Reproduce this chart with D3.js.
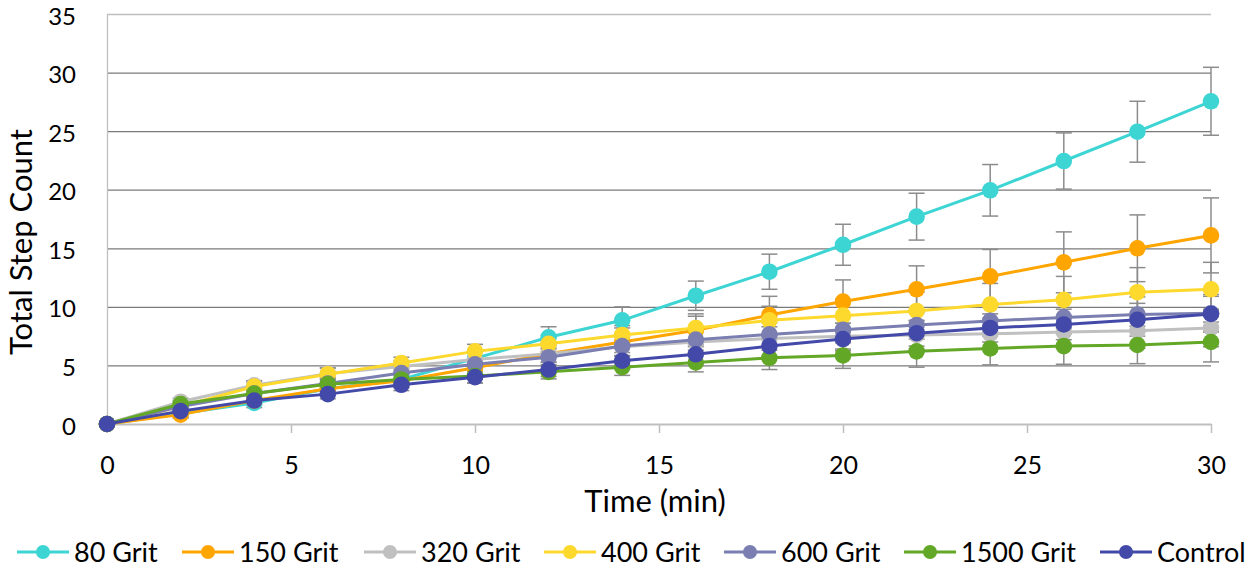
<!DOCTYPE html>
<html><head><meta charset="utf-8">
<script src="https://cdn.jsdelivr.net/npm/d3@7"></script>
<style>body{margin:0;background:#fff;} svg{display:block;font-family:Lato,"Open Sans",sans-serif;}</style>
</head><body><svg id="c" width="1256" height="568"></svg>
<script>
const times = [0,2,4,6,8,10,12,14,16,18,20,22,24,26,28,30];
const seriesNames = ["80 Grit","150 Grit","320 Grit","400 Grit","600 Grit","1500 Grit","Control"];
const seriesColors = ["#3dd4d4","#ffa500","#c0c0c0","#fdd82d","#7a7eb0","#63a726","#4349a8"];
const grit80   = [0,0.9,1.8,3.0,3.8,5.6,7.4,8.85,10.95,13.0,15.3,17.7,19.95,22.45,24.95,27.55];
const grit150  = [0,0.8,2.0,3.0,3.7,4.8,6.0,7.0,8.0,9.3,10.45,11.5,12.6,13.8,15.0,16.1];
const grit320  = [0,1.9,3.3,4.3,4.9,5.5,6.0,6.6,7.0,7.3,7.5,7.6,7.7,7.85,7.95,8.2];
const grit400  = [0,1.5,3.2,4.25,5.2,6.2,6.85,7.6,8.2,8.85,9.25,9.65,10.2,10.6,11.25,11.5];
const grit600  = [0,1.5,2.6,3.45,4.35,5.1,5.7,6.65,7.2,7.65,8.05,8.45,8.8,9.1,9.35,9.45];
const grit1500 = [0,1.7,2.6,3.4,3.8,4.1,4.45,4.85,5.25,5.65,5.85,6.2,6.45,6.65,6.75,7.0];
const control  = [0,1.1,2.0,2.55,3.35,4.0,4.65,5.4,5.95,6.65,7.25,7.75,8.2,8.5,8.9,9.4];
const err80    = [0,0.3,0.4,0.5,0.6,0.7,0.9,1.15,1.25,1.5,1.75,2.0,2.2,2.4,2.6,2.9];
const err150   = [0,0.3,0.4,0.5,0.6,0.8,1.0,1.2,1.4,1.6,1.85,2.0,2.3,2.6,2.85,3.2];
const err320   = [0,0.3,0.4,0.5,0.5,0.6,0.7,0.8,0.9,1.0,1.1,1.2,1.3,1.4,1.5,1.6];
const err400   = [0,0.3,0.4,0.5,0.5,0.6,0.7,0.8,1.0,1.2,1.4,1.6,1.8,2.0,2.1,2.3];
const err600   = [0,0.3,0.4,0.5,0.5,0.6,0.7,0.8,0.9,1.0,1.1,1.2,1.3,1.4,1.5,1.6];
const err1500  = [0,0.3,0.4,0.5,0.5,0.6,0.6,0.7,0.8,1.0,1.1,1.35,1.4,1.55,1.6,1.7];
const errCtrl  = [0,0.3,0.3,0.4,0.5,0.5,0.6,0.7,0.8,0.9,1.0,1.1,1.2,1.3,1.4,1.5];
const xTicks = [0,5,10,15,20,25,30];
const yTicks = [0,5,10,15,20,25,30,35];
const xTitle = "Time (min)";
const yTitle = "Total Step Count";

const values = [grit80,grit150,grit320,grit400,grit600,grit1500,control];
const errors = [err80,err150,err320,err400,err600,err1500,errCtrl];
const series = seriesNames.map((n,i)=>({name:n,color:seriesColors[i],
  pts:times.map((t,j)=>({t,v:values[i][j],e:errors[i][j]}))}));

const svg = d3.select("#c");
const L=107,R=1211,T=14,B=424;
const x = d3.scaleLinear().domain([0,30]).range([L,R]);
const y = d3.scaleLinear().domain([0,35]).range([B,T]);

// gridlines
svg.append("g").selectAll("line").data(yTicks.filter(d=>d>0)).join("line")
  .attr("x1",L).attr("x2",R).attr("y1",d=>y(d)+0.5).attr("y2",d=>y(d)+0.5)
  .attr("stroke",d=>d===35?"#bfbfbf":"#7a7a7a").attr("stroke-width",1.3);

// left axis line
svg.append("line").attr("x1",L+0.5).attr("x2",L+0.5).attr("y1",T).attr("y2",B)
  .attr("stroke","#bfbfbf").attr("stroke-width",1.3);

// bottom axis
const xa = svg.append("g").attr("transform",`translate(0,${B})`)
  .call(d3.axisBottom(x).tickValues(xTicks).tickSize(9).tickSizeOuter(0));
xa.select(".domain").attr("stroke","#bfbfbf").attr("stroke-width",2);
xa.selectAll(".tick line").attr("stroke","#bfbfbf").attr("stroke-width",1.5)
  .attr("display",d=>d===0?"none":null);
xa.selectAll(".tick text").attr("font-size",25).attr("fill","#000")
  .attr("y",50).attr("dy",0).style("font-family","Lato");

// left axis labels
const ya = svg.append("g").attr("transform",`translate(${L},0)`)
  .call(d3.axisLeft(y).tickValues(yTicks).tickSize(0).tickPadding(31));
ya.select(".domain").remove();
ya.selectAll(".tick text").attr("font-size",24).attr("fill","#000").attr("dy","0.42em").style("font-family","Lato");

// axis titles
svg.append("text").attr("x",655).attr("y",512).attr("text-anchor","middle")
  .attr("font-size",31).text(xTitle);
svg.append("text").attr("transform","translate(32,242) rotate(-90)").attr("text-anchor","middle")
  .attr("font-size",31).text(yTitle);

// error bars
const eg = svg.append("g");
series.forEach(s=>{
  const g = eg.append("g").attr("stroke","#8c8c8c").attr("stroke-width",1.5);
  const pts = s.pts.filter(p=>p.e>0);
  g.selectAll(".v").data(pts).join("line")
    .attr("x1",p=>x(p.t)).attr("x2",p=>x(p.t)).attr("y1",p=>y(p.v+p.e)).attr("y2",p=>y(p.v-p.e));
  g.selectAll(".t").data(pts).join("line")
    .attr("x1",p=>x(p.t)-8).attr("x2",p=>x(p.t)+8).attr("y1",p=>y(p.v+p.e)).attr("y2",p=>y(p.v+p.e));
  g.selectAll(".b").data(pts).join("line")
    .attr("x1",p=>x(p.t)-8).attr("x2",p=>x(p.t)+8).attr("y1",p=>y(p.v-p.e)).attr("y2",p=>y(p.v-p.e));
});

// lines + markers
const line = d3.line().x(p=>x(p.t)).y(p=>y(p.v));
series.forEach(s=>{
  svg.append("path").datum(s.pts).attr("d",line).attr("fill","none")
    .attr("stroke",s.color).attr("stroke-width",3);
  svg.append("g").selectAll("circle").data(s.pts).join("circle")
    .attr("cx",p=>x(p.t)).attr("cy",p=>y(p.v)).attr("r",8.3).attr("fill",s.color);
});

// legend
const legX = [17,182,364,544,724,904,1100];
const lg = svg.append("g");
series.forEach((s,i)=>{
  const g = lg.append("g").attr("transform",`translate(${legX[i]},552)`);
  g.append("line").attr("x1",0).attr("x2",52).attr("y1",0).attr("y2",0)
    .attr("stroke",s.color).attr("stroke-width",3);
  g.append("circle").attr("cx",26).attr("cy",0).attr("r",7).attr("fill",s.color);
  g.append("text").attr("x",57).attr("y",0).attr("dy","0.36em").attr("font-size",27).text(s.name);
});
</script></body></html>
